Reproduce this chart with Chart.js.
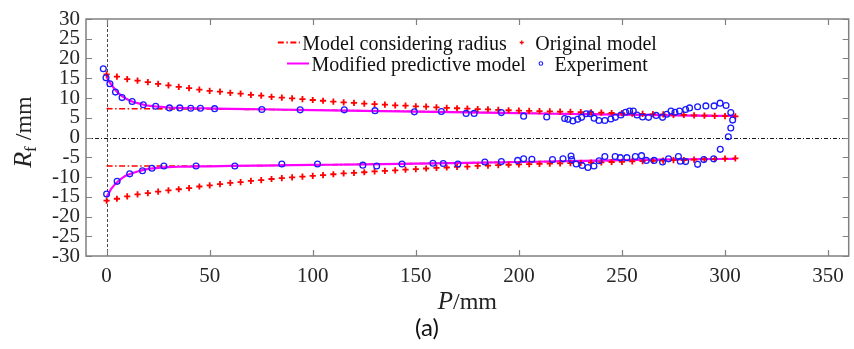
<!DOCTYPE html>
<html>
<head>
<meta charset="utf-8">
<script src="https://cdn.jsdelivr.net/npm/chart.js@4/dist/chart.umd.min.js"></script>
<style>
  html, body { margin: 0; padding: 0; background: #ffffff; }
  #wrap { width: 854px; height: 349px; position: relative; }
</style>
</head>
<body>
<div id="wrap"><canvas id="c" width="854" height="349"></canvas></div>
<script>
// Axis ticks
const xTicks = [0, 50, 100, 150, 200, 250, 300, 350];
const yTicks = [-30, -25, -20, -15, -10, -5, 0, 5, 10, 15, 20, 25, 30];

// Series names
const seriesNames = ['Model considering radius', 'Original model', 'Modified predictive model', 'Experiment'];

// Model considering radius (two branches)
const radX     = [0, 50, 100, 150, 200, 250, 305];
const radUpper = [7.3, 7.2, 6.95, 6.6, 6.2, 5.85, 5.45];
const radLower = [-7.2, -7.2, -6.95, -6.6, -6.2, -5.8, -5.4];

// Original model, sampled every 5 mm
const origX = [0, 5, 10, 15, 20, 25, 30, 35, 40, 45, 50, 55, 60, 65, 70, 75, 80, 85, 90, 95,
  100, 105, 110, 115, 120, 125, 130, 135, 140, 145, 150, 155, 160, 165, 170, 175, 180, 185, 190, 195,
  200, 205, 210, 215, 220, 225, 230, 235, 240, 245, 250, 255, 260, 265, 270, 275, 280, 285, 290, 295,
  300, 305];
const origUpper = [16.0, 15.4, 14.8, 14.4, 14.0, 13.6, 13.2, 12.8, 12.5, 12.1, 11.8, 11.6, 11.3, 11.1, 10.8, 10.6, 10.3, 10.1, 9.9, 9.7,
  9.5, 9.3, 9.1, 8.9, 8.75, 8.6, 8.45, 8.3, 8.15, 8.05, 7.9, 7.8, 7.65, 7.5, 7.4, 7.3, 7.2, 7.1, 7.0, 6.9,
  6.8, 6.75, 6.7, 6.6, 6.55, 6.5, 6.4, 6.35, 6.3, 6.2, 6.15, 6.05, 6.0, 5.9, 5.85, 5.75, 5.7, 5.6, 5.55, 5.45,
  5.4, 5.35];
const origLower = [-16.0, -15.5, -14.9, -14.4, -14.1, -13.7, -13.4, -13.1, -12.8, -12.4, -12.1, -11.8, -11.5, -11.3, -11.0, -10.8, -10.5, -10.3, -10.1, -9.9,
  -9.7, -9.5, -9.3, -9.1, -8.95, -8.8, -8.6, -8.45, -8.3, -8.15, -8.0, -7.85, -7.7, -7.6, -7.45, -7.35, -7.2, -7.1, -7.0, -6.9,
  -6.8, -6.75, -6.7, -6.6, -6.55, -6.5, -6.4, -6.35, -6.3, -6.2, -6.15, -6.05, -6.0, -5.9, -5.85, -5.75, -5.7, -5.6, -5.5, -5.45,
  -5.35, -5.3];

// Modified predictive model
const modX     = [0, 1, 2, 3, 4, 5, 6, 8, 10, 12, 15, 18, 21, 25, 30, 35, 40, 50, 60, 75, 100, 125, 150, 175, 200, 225, 250, 275, 305];
const modUpper = [15.3, 14.4, 13.6, 12.9, 12.2, 11.6, 11.1, 10.3, 9.7, 9.2, 8.7, 8.3, 8.0, 7.8, 7.6, 7.5, 7.45, 7.35, 7.25, 7.15, 6.95, 6.75, 6.55, 6.35, 6.15, 5.95, 5.8, 5.6, 5.45];
const modLower = [-15.1, -14.1, -13.2, -12.5, -11.9, -11.4, -10.9, -10.1, -9.5, -9.1, -8.6, -8.2, -7.9, -7.7, -7.5, -7.4, -7.35, -7.3, -7.2, -7.1, -6.95, -6.8, -6.6, -6.4, -6.2, -6.0, -5.75, -5.55, -5.4];

// Measured radius, upper branch
const expUpperX = [-1.6, -0.3, 1.6, 4.3, 7.5, 12.4, 17.8, 23.8, 30.5, 35.5, 40.8, 45.5, 52.4, 75.3, 93.9, 115.3, 130.2, 149.3,
  162.4, 174.4, 178.3, 191.5, 202.3, 213.5, 222.2, 223.8, 226.2, 228.5, 230.4, 232.7, 234.7, 236.5, 238.8, 241.7,
  244.6, 246.8, 249.5, 251.8, 253.7, 255.5, 257.3, 260.0, 262.9, 266.6, 269.7, 271.7, 273.8, 275.7, 277.9, 280.9,
  282.8, 286.7, 290.7, 294.7, 297.6, 300.5, 302.8, 303.7, 302.8, 301.6, 297.7];
const expUpperY = [17.4, 15.1, 13.6, 11.5, 10.1, 9.1, 8.3, 7.9, 7.5, 7.5, 7.4, 7.4, 7.3, 7.1, 7.0, 7.0, 6.8, 6.5,
  6.6, 6.1, 6.1, 6.3, 5.4, 5.2, 4.8, 4.6, 4.2, 4.6, 5.1, 6.0, 6.0, 4.9, 4.3, 4.3,
  4.7, 5.1, 5.7, 6.4, 6.7, 6.7, 5.7, 5.2, 5.1, 5.6, 5.1, 5.9, 6.7, 6.4, 6.7, 7.1,
  7.5, 7.8, 8.0, 8.0, 8.7, 8.1, 6.3, 4.4, 2.4, 0.2, -3.0];

// Measured radius, lower branch
const expLowerX = [0.0, 5.1, 11.2, 17.4, 22.0, 27.8, 43.4, 62.2, 85.0, 102.3, 124.3, 131.0, 143.3, 158.3, 163.3, 170.4,
  183.5, 191.5, 199.4, 202.3, 206.3, 216.3, 221.4, 225.3, 225.6, 227.8, 230.7, 233.5, 236.4, 238.9, 241.7,
  246.7, 249.2, 252.4, 256.5, 259.5, 261.8, 265.6, 269.7, 272.6, 277.4, 278.3, 280.9, 286.7, 289.7, 294.5];
const expLowerY = [-14.3, -11.1, -9.2, -8.4, -7.8, -7.2, -7.2, -7.2, -6.7, -6.7, -7.0, -7.2, -6.7, -6.5, -6.6, -6.7,
  -6.2, -6.1, -5.8, -5.4, -5.5, -5.6, -5.4, -4.7, -5.6, -6.7, -7.1, -7.6, -7.2, -5.9, -4.8,
  -4.8, -5.1, -5.1, -4.8, -4.6, -5.8, -5.8, -6.2, -5.4, -4.8, -6.0, -6.1, -6.8, -5.6, -5.4];

const RED = '#ff0000', MAGENTA = '#ff00ff', BLUE = '#1a1aff';
const RAD_DASH = [6, 2.5, 1.5, 2.5];
const SERIF = '"Liberation Serif", "Times New Roman", serif';

const pts = (xs, ys) => xs.map((x, i) => ({ x: x, y: ys[i] }));

const lineSet = (data, color, width, dash, order) => ({
  data: data, showLine: true, borderColor: color, borderWidth: width, borderDash: dash,
  pointRadius: 0, fill: false, tension: 0.35, cubicInterpolationMode: 'monotone', order: order
});
const crossSet = (data) => ({
  data: data, showLine: false, pointStyle: 'cross', pointRadius: 3.1, borderColor: RED,
  pointBorderWidth: 1.8, pointHoverRadius: 3.1, order: 1
});
const circleSet = (data) => ({
  data: data, showLine: false, pointStyle: 'circle', pointRadius: 2.9, borderColor: BLUE,
  backgroundColor: 'rgba(0,0,0,0)', pointBorderWidth: 1.3, order: 0
});

// Frame, inner ticks, reference lines, legend and axis titles
const decor = {
  id: 'decor',
  beforeDatasetsDraw(chart) {
    const { ctx, chartArea: a, scales: { x, y } } = chart;
    ctx.save();
    ctx.strokeStyle = '#000000';
    ctx.lineWidth = 0.9;
    ctx.setLineDash([4, 2, 1, 2]);
    const y0 = Math.round(y.getPixelForValue(0)) + 0.5;
    ctx.beginPath(); ctx.moveTo(a.left, y0); ctx.lineTo(a.right, y0); ctx.stroke();
    ctx.strokeStyle = '#333333';
    ctx.setLineDash([3, 2]);
    const x0 = Math.round(x.getPixelForValue(0)) + 0.5;
    ctx.beginPath(); ctx.moveTo(x0, a.top); ctx.lineTo(x0, a.bottom); ctx.stroke();
    ctx.restore();
  },
  afterDraw(chart) {
    const { ctx, chartArea: a, scales: { x, y } } = chart;
    ctx.save();
    // frame
    ctx.strokeStyle = '#808080';
    ctx.lineWidth = 1.5;
    ctx.setLineDash([]);
    ctx.strokeRect(a.left, a.top, a.right - a.left, a.bottom - a.top);
    // inner ticks
    ctx.lineWidth = 1.2;
    ctx.beginPath();
    xTicks.forEach(v => {
      const px = Math.round(x.getPixelForValue(v)) + 0.5;
      ctx.moveTo(px, a.bottom); ctx.lineTo(px, a.bottom - 6);
      ctx.moveTo(px, a.top); ctx.lineTo(px, a.top + 6);
    });
    yTicks.forEach(v => {
      const py = Math.round(y.getPixelForValue(v)) + 0.5;
      ctx.moveTo(a.left, py); ctx.lineTo(a.left + 6, py);
      ctx.moveTo(a.right, py); ctx.lineTo(a.right - 6, py);
    });
    ctx.stroke();

    // legend: two rows, each centred on the plot
    const rows = [
      [{ kind: 'line', color: RED, dash: RAD_DASH, width: 2, label: seriesNames[0] },
       { kind: 'cross', label: seriesNames[1] }],
      [{ kind: 'line', color: MAGENTA, dash: [], width: 2, label: seriesNames[2] },
       { kind: 'circle', label: seriesNames[3] }]
    ];
    const rowY = [42.5, 63.5];
    const cx = (a.left + a.right) / 2;
    const SW = 22, GAP = 2.5, ITEM_GAP = 4;
    ctx.font = '20px ' + SERIF;
    ctx.textBaseline = 'alphabetic';
    ctx.textAlign = 'left';
    rows.forEach((row, r) => {
      const widths = row.map(it => SW + GAP + ctx.measureText(it.label).width);
      const total = widths.reduce((s, w) => s + w, 0) + ITEM_GAP * (row.length - 1);
      let px = cx - total / 2;
      const py = rowY[r];
      row.forEach((it, i) => {
        if (it.kind === 'line') {
          ctx.strokeStyle = it.color; ctx.lineWidth = it.width; ctx.setLineDash(it.dash);
          ctx.beginPath(); ctx.moveTo(px, py); ctx.lineTo(px + SW, py); ctx.stroke();
          ctx.setLineDash([]);
        } else if (it.kind === 'cross') {
          const mx = px + SW / 2;
          ctx.strokeStyle = RED; ctx.lineWidth = 1.3;
          ctx.beginPath(); ctx.moveTo(mx - 2, py); ctx.lineTo(mx + 2, py);
          ctx.moveTo(mx, py - 2); ctx.lineTo(mx, py + 2); ctx.stroke();
        } else {
          const mx = px + SW / 2;
          ctx.strokeStyle = BLUE; ctx.lineWidth = 1.1;
          ctx.beginPath(); ctx.arc(mx, py, 1.8, 0, Math.PI * 2); ctx.stroke();
        }
        ctx.fillStyle = '#111111';
        ctx.fillText(it.label, px + SW + GAP, py + 7);
        px += widths[i] + ITEM_GAP;
      });
    });

    // x axis title: P/mm
    ctx.fillStyle = '#222222';
    const xt = [['P', 'italic 25px ' + SERIF], ['/mm', '24px ' + SERIF]];
    let tw = 0;
    xt.forEach(([t, f]) => { ctx.font = f; tw += ctx.measureText(t).width; });
    let tx = cx - tw / 2;
    xt.forEach(([t, f]) => { ctx.font = f; ctx.fillText(t, tx, 309); tx += ctx.measureText(t).width; });

    // y axis title: R_f /mm
    ctx.save();
    ctx.translate(31, 132);
    ctx.rotate(-Math.PI / 2);
    const yt = [['R', 'italic 26px ' + SERIF, 0], ['f', '17px ' + SERIF, 5], [' /mm', '24px ' + SERIF, 0]];
    tw = 0;
    yt.forEach(([t, f]) => { ctx.font = f; tw += ctx.measureText(t).width; });
    tx = -tw / 2;
    yt.forEach(([t, f, dy]) => { ctx.font = f; ctx.fillText(t, tx, dy); tx += ctx.measureText(t).width; });
    ctx.restore();

    // panel label
    ctx.font = '24px Lato, "Open Sans", sans-serif';
    ctx.textAlign = 'center';
    ctx.fillStyle = '#111111';
    ctx.fillText('(a)', 427, 336);
    ctx.restore();
  }
};

new Chart(document.getElementById('c'), {
  type: 'scatter',
  data: {
    datasets: [
      lineSet(pts(radX, radUpper), RED, 1.6, RAD_DASH, 3),
      lineSet(pts(radX, radLower), RED, 1.6, RAD_DASH, 3),
      crossSet(pts(origX, origUpper)),
      crossSet(pts(origX, origLower)),
      lineSet(pts(modX, modUpper), MAGENTA, 2.2, [], 2),
      lineSet(pts(modX, modLower), MAGENTA, 2.2, [], 2),
      circleSet(pts(expUpperX, expUpperY)),
      circleSet(pts(expLowerX, expLowerY))
    ]
  },
  options: {
    responsive: false,
    animation: false,
    events: [],
    layout: { padding: { top: 19, right: 2, left: 0, bottom: 0 } },
    plugins: { legend: { display: false }, tooltip: { enabled: false } },
    scales: {
      x: {
        type: 'linear', min: -10, max: 360,
        afterBuildTicks: (axis) => { axis.ticks = xTicks.map(v => ({ value: v })); },
        afterFit: (s) => { s.height = 93; },
        grid: { display: false, drawTicks: false },
        border: { display: false },
        ticks: { autoSkip: false, maxRotation: 0, padding: 8, color: '#262626', font: { family: SERIF, size: 21 } }
      },
      y: {
        type: 'linear', min: -30, max: 30,
        afterBuildTicks: (axis) => { axis.ticks = yTicks.map(v => ({ value: v })); },
        afterFit: (s) => { s.width = 86; },
        grid: { display: false, drawTicks: false },
        border: { display: false },
        ticks: { autoSkip: false, padding: 6, color: '#262626', font: { family: SERIF, size: 21 } }
      }
    }
  },
  plugins: [decor]
});
</script>
</body>
</html>
